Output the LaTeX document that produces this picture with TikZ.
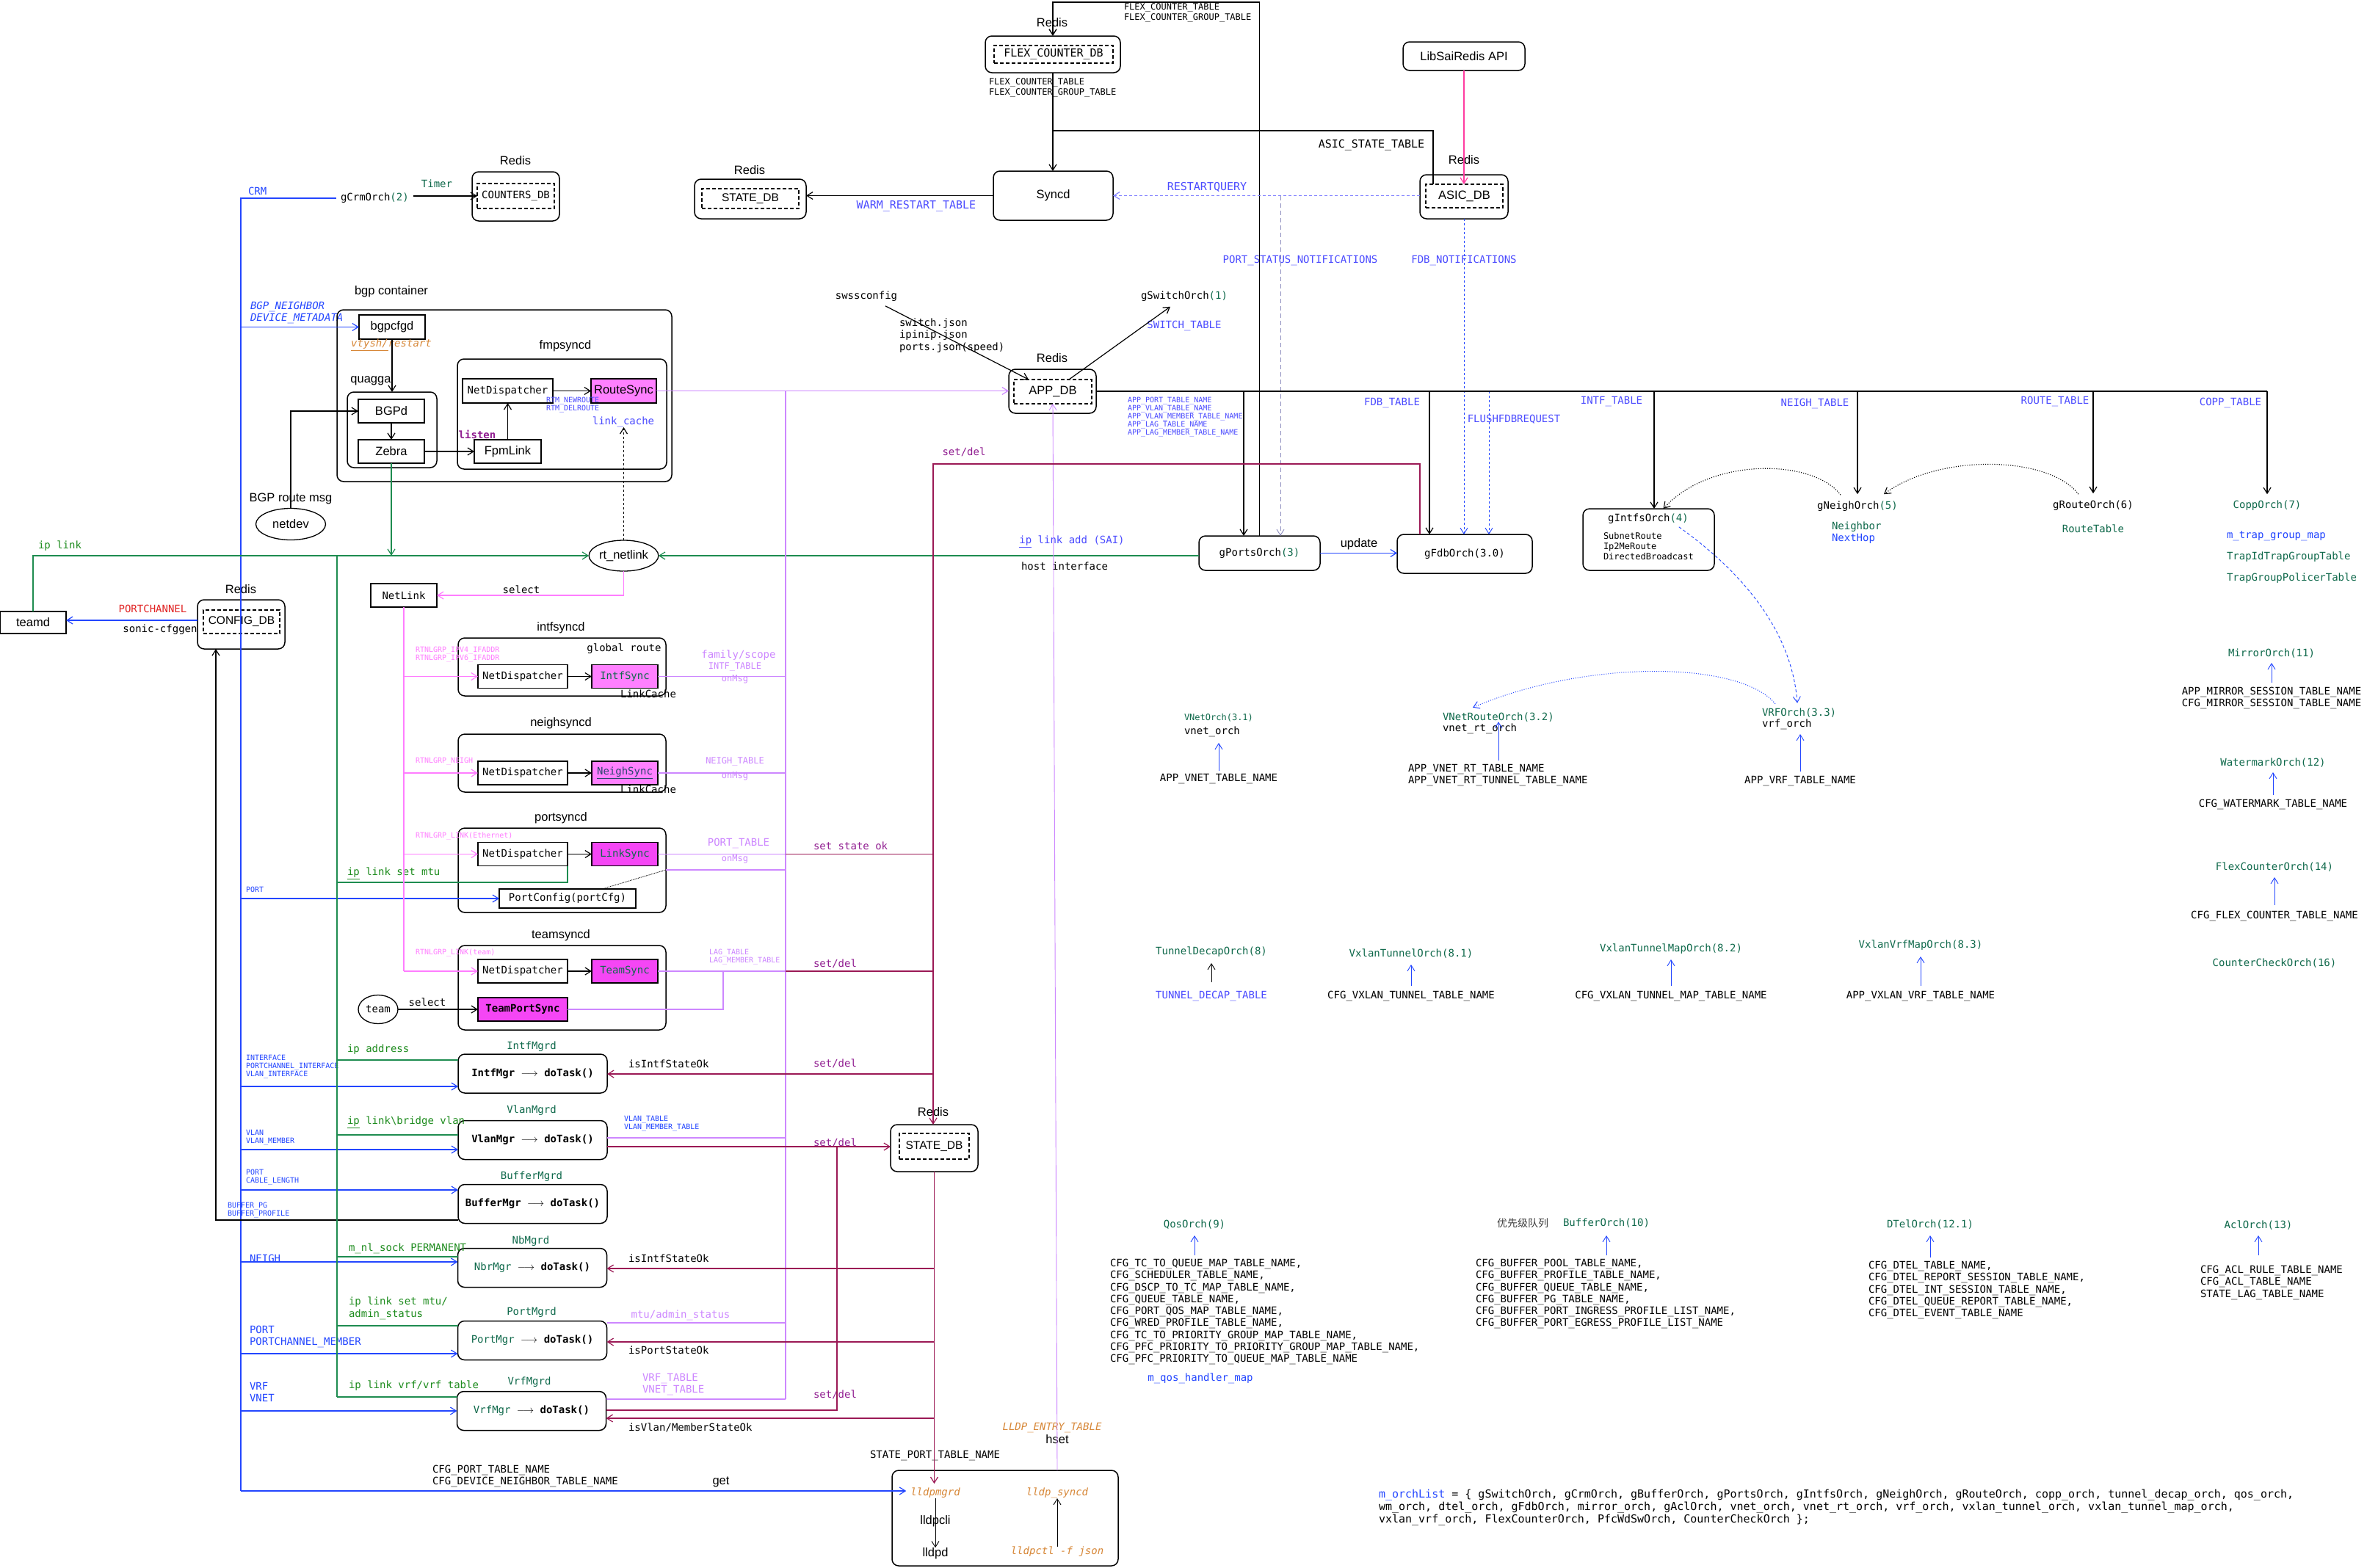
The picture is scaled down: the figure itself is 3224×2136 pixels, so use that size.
\documentclass[tikz,border=0pt]{standalone}
\usepackage{fontspec}
\setmainfont{Liberation Sans}
\setmonofont{DejaVu Sans Mono}
\newfontfamily\cjkfont{Noto Sans CJK SC}
\usetikzlibrary{arrows.meta,shapes.geometric}

\definecolor{cfgblue}{RGB}{35,70,255}
\definecolor{lblue}{RGB}{75,75,255}
\definecolor{qblue}{RGB}{130,130,255}
\definecolor{lnkgreen}{RGB}{30,140,80}
\definecolor{txtgreen}{RGB}{30,140,30}
\definecolor{orchgreen}{RGB}{15,105,75}
\definecolor{nlpink}{RGB}{255,125,255}
\definecolor{appviolet}{RGB}{205,135,255}
\definecolor{syncfill}{RGB}{255,128,255}
\definecolor{syncfillb}{RGB}{245,70,245}
\definecolor{stred}{RGB}{155,25,85}
\definecolor{setpurple}{RGB}{145,30,145}
\definecolor{lldporange}{RGB}{215,135,55}
\definecolor{saipink}{RGB}{255,60,160}
\definecolor{pcred}{RGB}{225,35,35}
\definecolor{notegray}{RGB}{140,140,190}
\definecolor{neighcol}{RGB}{40,70,110}
\definecolor{cjkgray}{RGB}{60,60,60}

\tikzset{
  every node/.style={inner sep=0pt, outer sep=0pt},
  >={Straight Barb[length=8pt,width=10pt]},
  ln/.style={line width=1.2pt},
  thn/.style={line width=0.9pt},
  t15/.style={font=\ttfamily\fontsize{15}{17.5}\selectfont},
  t14/.style={font=\ttfamily\fontsize{14}{16.3}\selectfont},
  t12/.style={font=\ttfamily\fontsize{12}{14}\selectfont},
  t10/.style={font=\ttfamily\fontsize{10}{11}\selectfont},
  s16/.style={font=\fontsize{16.5}{19}\selectfont},
  s15/.style={font=\fontsize{15.5}{18}\selectfont},
  rbox/.style={draw, rounded corners=9pt, line width=1.5pt},
  sqbox/.style={draw, line width=1.5pt},
  dbin/.style={draw, line width=1.3pt, dash pattern=on 5pt off 3pt},
  bdot/.style={dash pattern=on 3pt off 3pt},
  ndbox/.style={sqbox, t14, minimum width=122, minimum height=32},
  syncbox/.style={sqbox, t14, minimum width=90, minimum height=32},
  mgrbox/.style={rbox, t14, minimum width=203, minimum height=53},
}

\begin{document}
\begin{tikzpicture}[x=1pt,y=-1pt]
\fill[white] (0,0) rectangle (3224,2136);
\useasboundingbox (0,0) rectangle (3224,2136);

% ================= Redis databases =================
\node[s16] at (702,219) {Redis};
\node[rbox,minimum width=119,minimum height=67] (cntdb) at (702.5,267.5) {};
\node[dbin,t14,minimum width=105,minimum height=34] (cntdbi) at (702.5,267) {COUNTERS\_DB};

\node[s16] at (1021,232) {Redis};
\node[rbox,minimum width=152,minimum height=54] (statedbA) at (1022,271) {};
\node[dbin,s15,minimum width=132,minimum height=27] (statedbAi) at (1022,270.5) {STATE\_DB};

\node[s16] at (1433,31) {Redis};
\node[rbox,minimum width=184,minimum height=50] (flexdb) at (1434,74) {};
\node[dbin,t15,minimum width=162,minimum height=24] (flexdbi) at (1435,74) {FLEX\_COUNTER\_DB};

\node[rbox,s16,minimum width=163,minimum height=67] (syncd) at (1434.5,266.5) {Syncd};
\node[rbox,s16,minimum width=166,minimum height=39] (libsai) at (1994,76.5) {LibSaiRedis API};

\node[s16] at (1994,218) {Redis};
\node[rbox,minimum width=120,minimum height=60] (asicdb) at (1994,268) {};
\node[dbin,s16,minimum width=105,minimum height=32] (asicdbi) at (1994.5,267) {ASIC\_DB};

\node[s16] at (1433,488) {Redis};
\node[rbox,minimum width=119,minimum height=60] (appdb) at (1433.5,533) {};
\node[dbin,s16,minimum width=106,minimum height=33] (appdbi) at (1434,533.5) {APP\_DB};

\node[s16] at (328,803) {Redis};
\node[rbox,minimum width=119,minimum height=67] (configdb) at (328.5,850.5) {};
\node[dbin,s15,minimum width=104,minimum height=32] (configdbi) at (329,847) {CONFIG\_DB};

\node[s16] at (1271,1515) {Redis};
\node[rbox,minimum width=119,minimum height=64] (statedbB) at (1272.5,1564) {};
\node[dbin,s15,minimum width=95,minimum height=35] (statedbBi) at (1272.5,1561.5) {STATE\_DB};

% ================= top labels =================
\node[t14,anchor=west] (crm) at (464,270) {gCrmOrch\textcolor{orchgreen}{(2)}};
\node[t14,text=orchgreen] at (595,250) {Timer};
\node[t14,text=cfgblue,anchor=west] at (338,260) {CRM};
\node[t12,anchor=north west,align=left] at (1531,5) {FLEX\_COUNTER\_TABLE\\FLEX\_COUNTER\_GROUP\_TABLE};
\node[t12,anchor=north west,align=left] at (1347,107) {FLEX\_COUNTER\_TABLE\\FLEX\_COUNTER\_GROUP\_TABLE};
\node[t15] at (1868,198) {ASIC\_STATE\_TABLE};
\node[t15,text=lblue] at (1248,281) {WARM\_RESTART\_TABLE};
\node[t15,text=lblue] at (1644,255) {RESTARTQUERY};
\node[t14,text=lblue] at (1771,355) {PORT\_STATUS\_NOTIFICATIONS};
\node[t14,text=lblue] at (1994,355) {FDB\_NOTIFICATIONS};

\node[t14] (swss) at (1180,404) {swssconfig};
\node[t14,anchor=north west,align=left] at (1225,434) {switch.json\\ipinip.json\\ports.json(speed)};
\node[t14] (gsw) at (1613,404) {gSwitchOrch\textcolor{orchgreen}{(1)}};
\node[t14,text=lblue] at (1613,444) {SWITCH\_TABLE};

% ================= bgp container =================
\node[s16] at (533,397) {bgp container};
\node[t14,text=cfgblue,anchor=north west,align=left] at (341,411) {\itshape BGP\_NEIGHBOR\\\itshape DEVICE\_METADATA};
\node[rbox,minimum width=456,minimum height=234] (bgpc) at (687,539) {};
\node[sqbox,s16,minimum width=90,minimum height=33] (bgpcfgd) at (534,445.5) {bgpcfgd};
\node[t14,text=lldporange] at (533,470) {\itshape\underline{vtysh/}restart};
\node[s16] at (505,519) {quagga};
\node[rbox,minimum width=122,minimum height=103] (quagga) at (534,585.5) {};
\node[sqbox,s16,minimum width=90,minimum height=32] (bgpd) at (533,560) {BGPd};
\node[sqbox,s16,minimum width=90,minimum height=32] (zebra) at (533,615) {Zebra};
\node[s16] at (770,471) {fmpsyncd};
\node[rbox,minimum width=285,minimum height=150] (fpmbox) at (765.5,564) {};
\node[sqbox,t14,minimum width=123,minimum height=33] (nda) at (691.5,532.5) {NetDispatcher};
\node[sqbox,s16,fill=syncfill,minimum width=89,minimum height=33] (routesync) at (849.5,532.5) {RouteSync};
\node[sqbox,s16,minimum width=91,minimum height=32] (fpmlink) at (691.5,615) {FpmLink};
\node[t10,text=lblue,anchor=north west,align=left] at (744,541) {RTM\_NEWROUTE\\RTM\_DELROUTE};
\node[t14,text=lblue] (linkcache) at (849,575) {link\_cache};
\node[t14,text=setpurple] at (650,592) {\bfseries listen};

\node[s16] at (396,679) {BGP route msg};
\node[draw,ellipse,line width=1.3pt,minimum width=95,minimum height=43,s16] (netdev) at (396,714) {netdev};
\node[draw,ellipse,line width=1.3pt,minimum width=93,minimum height=42,s16] (rtnl) at (849.5,757) {rt\_netlink};
\node[sqbox,t14,minimum width=90,minimum height=32] (netlink) at (550,811) {NetLink};
\node[t14] at (710,803) {select};
\node[sqbox,s16,minimum width=90,minimum height=30] (teamd) at (45,848) {teamd};
\node[t14,text=txtgreen,anchor=west] at (52,744) {ip link};
\node[t14,text=pcred] at (208,829) {PORTCHANNEL};
\node[t14] at (218,858) {sonic-cfggen};

% ================= intfsyncd =================
\node[s16] at (764,855) {intfsyncd};
\node[rbox,minimum width=283,minimum height=79] (intfbox) at (765.5,908.5) {};
\node[t14] at (850,884) {global route};
\node[ndbox] (ndb) at (712,921.5) {NetDispatcher};
\node[syncbox,fill=syncfill,text=orchgreen] (intfsync) at (851,921.5) {IntfSync};
\node[t14] at (883,945) {LinkCache};
\node[t10,text=nlpink,anchor=north west,align=left] at (566,881) {RTNLGRP\_IPV4\_IFADDR\\RTNLGRP\_IPV6\_IFADDR};
\node[t14,text=appviolet] at (1006,893) {family/scope};
\node[t12,text=appviolet] at (1001,909) {INTF\_TABLE};
\node[t12,text=appviolet] at (1001,925) {onMsg};

% ================= neighsyncd =================
\node[s16] at (764,985) {neighsyncd};
\node[rbox,minimum width=283,minimum height=79] (neighbox) at (765.5,1039.5) {};
\node[ndbox] (ndc) at (712,1053) {NetDispatcher};
\node[syncbox,fill=syncfill,text=neighcol] (neighsync) at (851,1053) {\underline{NeighSync}};
\node[t14] at (883,1075) {LinkCache};
\node[t10,text=nlpink,anchor=west] at (566,1037) {RTNLGRP\_NEIGH};
\node[t12,text=appviolet] at (1001,1037) {NEIGH\_TABLE};
\node[t12,text=appviolet] at (1001,1057) {onMsg};

% ================= portsyncd =================
\node[s16] at (764,1114) {portsyncd};
\node[rbox,minimum width=283,minimum height=115] (portbox) at (765.5,1185.5) {};
\node[ndbox] (ndd) at (712,1163.5) {NetDispatcher};
\node[syncbox,fill=syncfillb,text=orchgreen] (linksync) at (851,1163.5) {LinkSync};
\node[sqbox,t14,minimum width=186,minimum height=26] (portcfg) at (773,1224) {PortConfig(portCfg)};
\node[t10,text=nlpink,anchor=west] at (566,1139) {RTNLGRP\_LINK(Ethernet)};
\node[t14,text=appviolet] at (1006,1149) {PORT\_TABLE};
\node[t12,text=appviolet] at (1001,1170) {onMsg};
\node[t14,text=txtgreen,anchor=west] at (473,1190) {\underline{ip} link set mtu};
\node[t10,text=cfgblue,anchor=west] at (335,1212) {PORT};
\node[t14,text=setpurple,anchor=west] at (1108,1152) {set state ok};

% ================= teamsyncd =================
\node[s16] at (764,1274) {teamsyncd};
\node[rbox,minimum width=283,minimum height=115] (teambox) at (765.5,1345.5) {};
\node[ndbox] (nde) at (712,1323) {NetDispatcher};
\node[syncbox,fill=syncfillb,text=orchgreen] (teamsync) at (851,1323) {TeamSync};
\node[draw,ellipse,line width=1.3pt,minimum width=54,minimum height=39,t14] (team) at (515,1375) {team};
\node[ndbox,fill=syncfillb] (tps) at (712,1375) {\bfseries TeamPortSync};
\node[t14] at (582,1365) {select};
\node[t10,text=nlpink,anchor=west] at (566,1298) {RTNLGRP\_LINK(team)};
\node[t10,text=appviolet,anchor=north west,align=left] at (966,1293) {LAG\_TABLE\\LAG\_MEMBER\_TABLE};
\node[t14,text=setpurple,anchor=west] at (1108,1313) {set/del};

% ================= managers =================
\node[t14,text=orchgreen] at (724,1426) {IntfMgrd};
\node[mgrbox] (intfmgr) at (725.5,1462.5) {\bfseries IntfMgr $\longrightarrow$ doTask()};
\node[t14,text=orchgreen] at (724,1513) {VlanMgrd};
\node[mgrbox] (vlanmgr) at (725.5,1553) {\bfseries VlanMgr $\longrightarrow$ doTask()};
\node[t14,text=orchgreen] at (724,1603) {BufferMgrd};
\node[mgrbox] (bufmgr) at (725.5,1640) {\bfseries BufferMgr $\longrightarrow$ doTask()};
\node[t14,text=orchgreen] at (723,1691) {NbMgrd};
\node[mgrbox] (nbrmgr) at (725,1727) {\textcolor{orchgreen}{NbrMgr} $\longrightarrow$ \textbf{doTask()}};
\node[t14,text=orchgreen] at (724,1788) {PortMgrd};
\node[mgrbox] (portmgr) at (725,1826) {\textcolor{orchgreen}{PortMgr} $\longrightarrow$ \textbf{doTask()}};
\node[t14,text=orchgreen] at (721,1883) {VrfMgrd};
\node[mgrbox] (vrfmgr) at (724,1922) {\textcolor{orchgreen}{VrfMgr} $\longrightarrow$ \textbf{doTask()}};

\node[t14,text=txtgreen,anchor=west] at (473,1430) {ip address};
\node[t10,text=cfgblue,anchor=north west,align=left] at (335,1437) {INTERFACE\\PORTCHANNEL\_INTERFACE\\VLAN\_INTERFACE};
\node[t14,anchor=west] at (856,1449) {isIntfStateOk};
\node[t14,text=setpurple,anchor=west] at (1108,1449) {set/del};

\node[t14,text=txtgreen,anchor=west] at (473,1529) {\underline{ip} link\textbackslash bridge vlan};
\node[t10,text=cfgblue,anchor=north west,align=left] at (335,1539) {VLAN\\VLAN\_MEMBER};
\node[t10,text=cfgblue,anchor=north west,align=left] at (850,1520) {VLAN\_TABLE\\VLAN\_MEMBER\_TABLE};
\node[t14,text=setpurple,anchor=west] at (1108,1557) {set/del};

\node[t10,text=cfgblue,anchor=north west,align=left] at (335,1593) {PORT\\CABLE\_LENGTH};
\node[t10,text=cfgblue,anchor=north west,align=left] at (310,1638) {BUFFER\_PG\\BUFFER\_PROFILE};

\node[t14,text=txtgreen,anchor=west] at (475,1701) {m\_nl\_sock PERMANENT};
\node[t14,text=cfgblue,anchor=west] at (340,1714) {NEIGH};
\node[t14,anchor=west] at (856,1714) {isIntfStateOk};

\node[t14,text=txtgreen,anchor=north west,align=left] at (475,1767) {ip link set mtu/\\admin\_status};
\node[t14,text=cfgblue,anchor=north west,align=left] at (340,1806) {PORT\\PORTCHANNEL\_MEMBER};
\node[t14,text=appviolet] at (927,1792) {mtu/admin\_status};
\node[t14,anchor=west] at (856,1839) {isPortStateOk};

\node[t14,text=txtgreen,anchor=west] at (475,1888) {ip link vrf/vrf table};
\node[t14,text=cfgblue,anchor=north west,align=left] at (340,1883) {VRF\\VNET};
\node[t14,text=appviolet,anchor=north west,align=left] at (875,1871) {VRF\_TABLE\\VNET\_TABLE};
\node[t14,text=setpurple,anchor=west] at (1108,1900) {set/del};
\node[t14,anchor=west] at (856,1945) {isVlan/MemberStateOk};

% ================= lldp =================
\node[rbox,minimum width=308,minimum height=130] (lldpbox) at (1369,2068) {};
\node[t14,text=lldporange] (lldpmgr) at (1274,2034) {\itshape lldpmgrd};
\node[t14,text=lldporange] (lldpsync) at (1440,2034) {\itshape lldp\_syncd};
\node[s16] (lldpcli) at (1274,2072) {lldpcli};
\node[s16] (lldpd) at (1274,2116) {lldpd};
\node[t14,text=lldporange] (lldpctl) at (1440,2114) {\itshape lldpctl -f json};
\node[t14,text=lldporange] at (1433,1945) {\itshape LLDP\_ENTRY\_TABLE};
\node[s16] at (1440,1961) {hset};
\node[t14,anchor=west] at (1185,1983) {STATE\_PORT\_TABLE\_NAME};
\node[t14,anchor=north west,align=left] at (589,1996) {CFG\_PORT\_TABLE\_NAME\\CFG\_DEVICE\_NEIGHBOR\_TABLE\_NAME};
\node[s16] at (982,2019) {get};
\node[t14,text=setpurple] at (1313,616) {set/del};

% ================= orchagent =================
\node[rbox,t14,minimum width=165,minimum height=47] (pso) at (1715.5,753.5) {gPortsOrch\textcolor{orchgreen}{(3)}};
\node[rbox,t14,minimum width=184,minimum height=53] (fdbo) at (1995,754.5) {gFdbOrch(3.0)};
\node[s16] at (1851,741) {update};
\node[t14,text=lblue] at (1460,738) {\underline{ip} link add (SAI)};
\node[t14] at (1450,771) {host interface};
\node[t10,text=lblue,anchor=north west,align=left] at (1536,541) {APP\_PORT\_TABLE\_NAME\\APP\_VLAN\_TABLE\_NAME\\APP\_VLAN\_MEMBER\_TABLE\_NAME\\APP\_LAG\_TABLE\_NAME\\APP\_LAG\_MEMBER\_TABLE\_NAME};
\node[t14,text=lblue] at (1896,549) {FDB\_TABLE};
\node[t14,text=lblue] at (2062,571) {FLUSHFDBREQUEST};
\node[t14,text=lblue] at (2195,547) {INTF\_TABLE};
\node[t14,text=lblue] at (2472,550) {NEIGH\_TABLE};
\node[t14,text=lblue] at (2799,547) {ROUTE\_TABLE};
\node[t14,text=lblue] at (3038,549) {COPP\_TABLE};

\node[rbox,minimum width=179,minimum height=84] (intfo) at (2245.5,735) {};
\node[t14] (intfotitle) at (2245,707) {gIntfsOrch\textcolor{orchgreen}{(4)}};
\node[t12,anchor=north west,align=left] at (2184,725) {SubnetRoute\\Ip2MeRoute\\DirectedBroadcast};
\node[t14] (gneigh) at (2530,690) {gNeighOrch\textcolor{orchgreen}{(5)}};
\node[t14,text=orchgreen,anchor=west] at (2495,718) {Neighbor};
\node[t14,text=cfgblue,anchor=west] at (2495,734) {NextHop};
\node[t14] (groute) at (2851,689) {gRouteOrch(6)};
\node[t14,text=orchgreen] at (2851,720) {RouteTable};
\node[t14,text=orchgreen] (copp) at (3088,689) {CoppOrch(7)};
\node[t14,text=cfgblue,anchor=west] at (3033,730) {m\_trap\_group\_map};
\node[t14,text=orchgreen,anchor=west] at (3033,759) {TrapIdTrapGroupTable};
\node[t14,text=orchgreen,anchor=west] at (3033,788) {TrapGroupPolicerTable};

% VNet / VRF
\node[t12,text=orchgreen,anchor=west] (vnetorch) at (1613,978) {VNetOrch(3.1)};
\node[t14,anchor=west] at (1613,997) {vnet\_orch};
\node[t14] (vnettbl) at (1660,1061) {APP\_VNET\_TABLE\_NAME};
\node[t14,text=orchgreen,anchor=west] (vnetrt) at (1965,977) {VNetRouteOrch(3.2)};
\node[t14,anchor=west] at (1965,993) {vnet\_rt\_orch};
\node[t14,anchor=north west,align=left] (vnetrttbl) at (1918,1041) {APP\_VNET\_RT\_TABLE\_NAME\\APP\_VNET\_RT\_TUNNEL\_TABLE\_NAME};
\node[t14,text=orchgreen,anchor=west] (vrforch) at (2400,971) {VRFOrch(3.3)};
\node[t14,anchor=west] at (2400,987) {vrf\_orch};
\node[t14] (vrftbl) at (2452,1064) {APP\_VRF\_TABLE\_NAME};

% right column
\node[t14,text=orchgreen] (mirror) at (3094,890) {MirrorOrch(11)};
\node[t14,align=center] (mirrortbl) at (3094,951) {APP\_MIRROR\_SESSION\_TABLE\_NAME\\CFG\_MIRROR\_SESSION\_TABLE\_NAME};
\node[t14,text=orchgreen] (wm) at (3096,1039) {WatermarkOrch(12)};
\node[t14] (wmtbl) at (3096,1096) {CFG\_WATERMARK\_TABLE\_NAME};
\node[t14,text=orchgreen] (flexo) at (3098,1181) {FlexCounterOrch(14)};
\node[t14] (flextbl) at (3098,1248) {CFG\_FLEX\_COUNTER\_TABLE\_NAME};
\node[t14,text=orchgreen] at (3098,1312) {CounterCheckOrch(16)};

% tunnel row
\node[t14,text=orchgreen] (tdecap) at (1650,1297) {TunnelDecapOrch(8)};
\node[t14,text=lblue] (tdecaptbl) at (1650,1357) {TUNNEL\_DECAP\_TABLE};
\node[t14,text=orchgreen] (vxt) at (1922,1299) {VxlanTunnelOrch(8.1)};
\node[t14] (vxttbl) at (1922,1357) {CFG\_VXLAN\_TUNNEL\_TABLE\_NAME};
\node[t14,text=orchgreen] (vxm) at (2276,1293) {VxlanTunnelMapOrch(8.2)};
\node[t14] (vxmtbl) at (2276,1357) {CFG\_VXLAN\_TUNNEL\_MAP\_TABLE\_NAME};
\node[t14,text=orchgreen] (vxv) at (2616,1288) {VxlanVrfMapOrch(8.3)};
\node[t14] (vxvtbl) at (2616,1357) {APP\_VXLAN\_VRF\_TABLE\_NAME};

% bottom orch row
\node[t14,text=orchgreen] (qos) at (1627,1668) {QosOrch(9)};
\node[t14,anchor=north west,align=left] (qostbl) at (1512,1715) {CFG\_TC\_TO\_QUEUE\_MAP\_TABLE\_NAME,\\CFG\_SCHEDULER\_TABLE\_NAME,\\CFG\_DSCP\_TO\_TC\_MAP\_TABLE\_NAME,\\CFG\_QUEUE\_TABLE\_NAME,\\CFG\_PORT\_QOS\_MAP\_TABLE\_NAME,\\CFG\_WRED\_PROFILE\_TABLE\_NAME,\\CFG\_TC\_TO\_PRIORITY\_GROUP\_MAP\_TABLE\_NAME,\\CFG\_PFC\_PRIORITY\_TO\_PRIORITY\_GROUP\_MAP\_TABLE\_NAME,\\CFG\_PFC\_PRIORITY\_TO\_QUEUE\_MAP\_TABLE\_NAME};
\node[t14,text=cfgblue] at (1635,1878) {m\_qos\_handler\_map};
\node[text=cjkgray,font=\cjkfont\fontsize{14}{16}\selectfont] at (2074,1666) {优先级队列};
\node[t14,text=orchgreen] (bufo) at (2188,1666) {BufferOrch(10)};
\node[t14,anchor=north west,align=left] at (2010,1715) {CFG\_BUFFER\_POOL\_TABLE\_NAME,\\CFG\_BUFFER\_PROFILE\_TABLE\_NAME,\\CFG\_BUFFER\_QUEUE\_TABLE\_NAME,\\CFG\_BUFFER\_PG\_TABLE\_NAME,\\CFG\_BUFFER\_PORT\_INGRESS\_PROFILE\_LIST\_NAME,\\CFG\_BUFFER\_PORT\_EGRESS\_PROFILE\_LIST\_NAME};
\node[t14,text=orchgreen] (dtel) at (2629,1668) {DTelOrch(12.1)};
\node[t14,anchor=north west,align=left] at (2545,1718) {CFG\_DTEL\_TABLE\_NAME,\\CFG\_DTEL\_REPORT\_SESSION\_TABLE\_NAME,\\CFG\_DTEL\_INT\_SESSION\_TABLE\_NAME,\\CFG\_DTEL\_QUEUE\_REPORT\_TABLE\_NAME,\\CFG\_DTEL\_EVENT\_TABLE\_NAME};
\node[t14,text=orchgreen] (acl) at (3076,1669) {AclOrch(13)};
\node[t14,anchor=north west,align=left] at (2997,1724) {CFG\_ACL\_RULE\_TABLE\_NAME\\CFG\_ACL\_TABLE\_NAME\\STATE\_LAG\_TABLE\_NAME};

\node[font=\ttfamily\fontsize{15}{17}\selectfont,anchor=north west,align=left] at (1878,2029) {\textcolor{cfgblue}{m\_orchList} = \{ gSwitchOrch, gCrmOrch, gBufferOrch, gPortsOrch, gIntfsOrch, gNeighOrch, gRouteOrch, copp\_orch, tunnel\_decap\_orch, qos\_orch,\\wm\_orch, dtel\_orch, gFdbOrch, mirror\_orch, gAclOrch, vnet\_orch, vnet\_rt\_orch, vrf\_orch, vxlan\_tunnel\_orch, vxlan\_tunnel\_map\_orch,\\vxlan\_vrf\_orch, FlexCounterOrch, PfcWdSwOrch, CounterCheckOrch \};};

% ================= connectors =================
% config bus
\coordinate (cbTop) at (328,270);
\coordinate (cbBot) at (328,2031);
\draw[ln,cfgblue] ([xshift=-6pt]crm.west) -- (cbTop) -- (cbBot);
\draw[ln,cfgblue,->] (cbTop |- bgpcfgd.west) -- (bgpcfgd.west);
\draw[ln,cfgblue,->] (cbTop |- portcfg.west) -- (portcfg.west);
\draw[ln,cfgblue,->] (cbTop |- 0,1480) -- (intfmgr.west |- 0,1480);
\draw[ln,cfgblue,->] (cbTop |- 0,1566) -- (vlanmgr.west |- 0,1566);
\draw[ln,cfgblue,->] (cbTop |- 0,1621) -- (bufmgr.west |- 0,1621);
\draw[ln,cfgblue,->] (cbTop |- 0,1719) -- (nbrmgr.west |- 0,1719);
\draw[ln,cfgblue,->] (cbTop |- 0,1844) -- (portmgr.west |- 0,1844);
\draw[ln,cfgblue,->] (cbTop |- 0,1922) -- (vrfmgr.west |- 0,1922);
\draw[ln,cfgblue,->] (cbBot) -- ([xshift=-6pt]lldpmgr.west |- cbBot);
\draw[ln,cfgblue,->] (configdb.west |- 0,845) -- (teamd.east |- 0,845);
\draw[ln,->] (bufmgr.west |- 0,1662) -| ([xshift=-34.5pt]configdb.south);

% Redis / syncd
\draw[ln,->] ([xshift=6pt]crm.east |- cntdbi.west) -- (cntdbi.west);
\draw[line width=1.4pt,->] (pso.north) -- (pso.north |- 0,3) -- (flexdb.north |- 0,3) -- (flexdb.north);
\draw[ln,->] (flexdb.south) -- (flexdb.south |- syncd.north);
\draw[ln] ([xshift=-42.5pt]asicdbi.north) |- (syncd.north |- 0,178);
\draw[ln,->] (syncd.west) -- (statedbA.east |- syncd.west);
\draw[ln,saipink,->] (libsai.south) -- (libsai.south |- asicdbi.north);
\draw[ln,qblue,dash pattern=on 4pt off 3pt,->] (asicdb.west |- syncd.east) -- (syncd.east);
\coordinate (psn) at (1744,267);
\draw[thn,notegray,dash pattern=on 6pt off 4pt,->] (psn) -- ([xshift=28.5pt]pso.north);
\draw[thn,cfgblue,bdot,->] (asicdb.south) -- (asicdb.south |- fdbo.north);
\draw[thn,cfgblue,bdot,->] ([xshift=33pt]fdbo.north |- appdb.east) -- ([xshift=33pt]fdbo.north);
\draw[ln,->] ([xshift=26pt,yshift=-6pt]swss.south) -- ([xshift=-33pt]appdbi.north);
\draw[ln,->] ([xshift=22pt]appdbi.north) -- ([xshift=-19pt,yshift=-7pt]gsw.south);

% APP_DB bus
\draw[ln] (appdb.east) -- (copp.north |- appdb.east);
\draw[ln,->] (copp.north |- appdb.east) -- ([yshift=9pt]copp.north);
\draw[ln,->] ([xshift=-21.5pt]pso.north |- appdb.east) -- ([xshift=-21.5pt]pso.north);
\draw[ln,->] ([xshift=-48pt]fdbo.north |- appdb.east) -- ([xshift=-48pt]fdbo.north);
\draw[ln,->] ([xshift=7.5pt]intfo.north |- appdb.east) -- ([xshift=7.5pt]intfo.north);
\draw[ln,->] (gneigh.north |- appdb.east) -- ([yshift=10pt]gneigh.north);
\draw[ln,->] (groute.north |- appdb.east) -- ([yshift=10pt]groute.north);

% orchagent internal
\draw[ln,cfgblue,->] (pso.east) -- (fdbo.west |- pso.east);
\draw[line width=1.1pt,dotted,->] ([xshift=-23pt,yshift=9pt]gneigh.north) .. controls (2470,625) and (2330,622) .. ([xshift=20pt]intfo.north);
\draw[line width=1.1pt,dotted,->] ([xshift=-20pt,yshift=9pt]groute.north) .. controls (2790,620) and (2640,618) .. ([xshift=36pt,yshift=10pt]gneigh.north);
\draw[thn,cfgblue,dash pattern=on 4pt off 3pt,->] ([xshift=-13pt,yshift=-4pt]intfotitle.south east) .. controls (2360,770) and (2440,850) .. ([xshift=48pt,yshift=7pt]vrforch.north west);
\draw[line width=1pt,cfgblue,dotted,->] ([xshift=18pt,yshift=6pt]vrforch.north west) .. controls (2370,900) and (2160,898) .. ([xshift=41pt,yshift=7pt]vnetrt.north west);

% short table arrows
\draw[thn,cfgblue,->] (vnettbl.north |- 0,1050) -- (vnettbl.north |- 0,1012);
\draw[thn,cfgblue,->] (2041,1036) -- (vnetrt.south -| 2041,0);
\draw[thn,cfgblue,->] (vrftbl.north |- 0,1051) -- (vrftbl.north |- 0,1000);
\draw[thn,cfgblue,->] (mirror.south |- 0,930) -- (mirror.south |- 0,903);
\draw[thn,cfgblue,->] (wm.south |- 0,1083) -- (wm.south |- 0,1052);
\draw[thn,cfgblue,->] (flexo.south |- 0,1233) -- (flexo.south |- 0,1195);
\draw[thn,->] (tdecap.south |- 0,1338) -- (tdecap.south |- 0,1312);
\draw[thn,cfgblue,->] (vxt.south |- 0,1343) -- (vxt.south |- 0,1314);
\draw[thn,cfgblue,->] (vxm.south |- 0,1343) -- (vxm.south |- 0,1307);
\draw[thn,cfgblue,->] (vxv.south |- 0,1343) -- (vxv.south |- 0,1303);
\draw[thn,cfgblue,->] (qos.south |- 0,1710) -- (qos.south |- 0,1683);
\draw[thn,cfgblue,->] (bufo.south |- 0,1710) -- (bufo.south |- 0,1683);
\draw[thn,cfgblue,->] (dtel.south |- 0,1713) -- (dtel.south |- 0,1683);
\draw[thn,cfgblue,->] (acl.south |- 0,1710) -- (acl.south |- 0,1683);

% bgp container internals
\draw[ln,->] (bgpcfgd.south) -- (quagga.north);
\draw[ln,->] (bgpd.south) -- (zebra.north);
\draw[ln,->] (netdev.north) |- (bgpd.west);
\draw[ln,->] (zebra.east) -- (fpmlink.west);
\draw[ln,->] (fpmlink.north) -- (nda.south);
\draw[ln,->] (nda.east) -- (routesync.west);
\draw[ln,dashed,->] (rtnl.north) -- (rtnl.north |- linkcache.south);

% netlink green lines
\draw[ln,lnkgreen,->] (teamd.north) |- (rtnl.west);
\draw[ln,lnkgreen,->] (zebra.south) -- (zebra.south |- rtnl.west);
\draw[ln,lnkgreen,->] (pso.west |- rtnl.east) -- (rtnl.east);
\coordinate (gbTop) at (459,757);
\draw[ln,lnkgreen] (gbTop) -- (gbTop |- 0,1903);
\draw[ln,lnkgreen] (gbTop |- 0,1202) -| (ndd.south east);
\draw[ln,lnkgreen] (gbTop |- 0,1444) -- (intfmgr.west |- 0,1444);
\draw[ln,lnkgreen] (gbTop |- 0,1546) -- (vlanmgr.west |- 0,1546);
\draw[ln,lnkgreen] (gbTop |- 0,1712) -- (nbrmgr.west |- 0,1712);
\draw[ln,lnkgreen] (gbTop |- 0,1806) -- (portmgr.west |- 0,1806);
\draw[ln,lnkgreen] (gbTop |- 0,1903) -- (vrfmgr.west |- 0,1903);

% netlink pink lines
\draw[ln,nlpink,->] (rtnl.south) |- (netlink.east);
\draw[ln,nlpink] (netlink.south) -- (netlink.south |- nde.west);
\draw[ln,nlpink,->] (netlink.south |- ndb.west) -- (ndb.west);
\draw[ln,nlpink,->] (netlink.south |- ndc.west) -- (ndc.west);
\draw[ln,nlpink,->] (netlink.south |- ndd.west) -- (ndd.west);
\draw[ln,nlpink,->] (netlink.south |- nde.west) -- (nde.west);

% syncd internals
\draw[ln,->] (ndb.east) -- (intfsync.west);
\draw[ln,->] (ndc.east) -- (neighsync.west);
\draw[ln,->] (ndd.east) -- (linksync.west);
\draw[ln,->] (nde.east) -- (teamsync.west);
\draw[ln,->] (team.east) -- (tps.west);
\draw[thn,densely dotted] ([xshift=47pt]portcfg.north) -- (portbox.east |- 0,1185);

% APP_DB producers (violet)
\coordinate (vbTop) at (1070,532.5);
\draw[ln,appviolet,->] (routesync.east) -- (appdb.west |- routesync.east);
\draw[ln,appviolet] (vbTop) -- (vbTop |- 0,1906);
\draw[ln,appviolet] (intfsync.east) -- (vbTop |- intfsync.east);
\draw[ln,appviolet] (neighsync.east) -- (vbTop |- neighsync.east);
\draw[ln,appviolet] (linksync.east) -- (vbTop |- linksync.east);
\draw[ln,appviolet] (portbox.east |- 0,1185) -- (vbTop |- 0,1185);
\draw[ln,appviolet] (teamsync.east) -- (vbTop |- teamsync.east);
\draw[ln,appviolet] (tps.east) -| (985,1323);
\draw[ln,appviolet] (vlanmgr.east |- 0,1550) -- (vbTop |- 0,1550);
\draw[ln,appviolet] (portmgr.east |- 0,1802) -- (vbTop |- 0,1802);
\draw[ln,appviolet] (vrfmgr.east |- 0,1906) -- (vbTop |- 0,1906);
\draw[thn,appviolet,->] (lldpsync.north |- lldpbox.north) -- (appdbi.south);

% STATE_DB lines
\coordinate (rbTop) at (1271,632);
\draw[ln,stred,->] ([xshift=-61pt]fdbo.north) |- (rbTop) -- (rbTop |- statedbB.north);
\draw[ln,stred] (vbTop |- linksync.east) -- (rbTop |- linksync.east);
\draw[ln,stred] (vbTop |- teamsync.east) -- (rbTop |- teamsync.east);
\draw[ln,stred,->] (rbTop |- 0,1463) -- (intfmgr.east |- 0,1463);
\draw[ln,stred,->] (vlanmgr.east |- 0,1562) -- (statedbB.west |- 0,1562);
\draw[ln,stred] (vrfmgr.east |- 0,1921) -| (1140,1562);
\draw[ln,stred,->] (statedbB.south) -- ([yshift=6pt]statedbB.south |- lldpmgr.north);
\draw[ln,stred,->] (statedbB.south |- 0,1728) -- (nbrmgr.east |- 0,1728);
\draw[ln,stred,->] (statedbB.south |- 0,1828) -- (portmgr.east |- 0,1828);
\draw[ln,stred,->] (statedbB.south |- 0,1932) -- (vrfmgr.east |- 0,1932);

% lldp internals
\draw[thn,->] (lldpmgr.south) -- (lldpd.north);
\draw[thn,->] (lldpctl.north) -- (lldpsync.south);

\end{tikzpicture}
\end{document}
